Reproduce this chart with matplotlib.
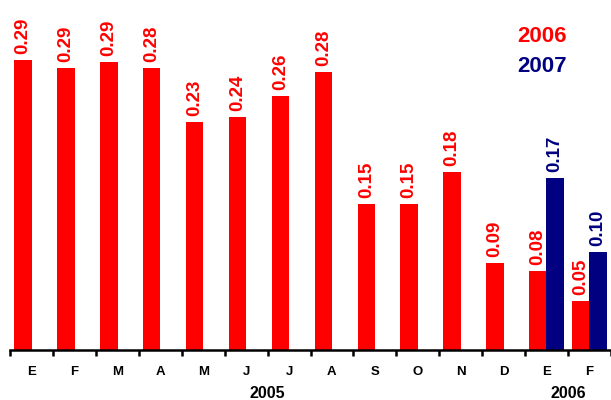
import matplotlib
matplotlib.use("Agg")
import matplotlib.pyplot as plt
import numpy as np

plt.rcParams['font.family'] = ['Liberation Sans', 'DejaVu Sans']
plt.rcParams['font.weight'] = 'bold'

months = ['E', 'F', 'M', 'A', 'M', 'J', 'J', 'A', 'S', 'O', 'N', 'D', 'E', 'F']
years = ['2005', '2006']
red_vals = [0.290, 0.282, 0.288, 0.282, 0.228, 0.233, 0.254, 0.278,
            0.146, 0.146, 0.178, 0.087, 0.079, 0.049]
red_labels = ['0.29', '0.29', '0.29', '0.28', '0.23', '0.24', '0.26', '0.28',
              '0.15', '0.15', '0.18', '0.09', '0.08', '0.05']
blue_idx = [12, 13]
blue_vals = [0.172, 0.098]
blue_labels = ['0.17', '0.10']

RED = '#FF0000'
NAVY = '#000080'

fig = plt.figure(figsize=(6.11, 4.0), dpi=100)
ax = fig.add_axes([10 / 611, 50 / 400, 601 / 611, 350 / 400])

x = np.arange(len(months))
w = 0.41
ax.bar(x - 0.2, red_vals, width=w, color=RED, zorder=2)
ax.bar(np.array(blue_idx) + 0.2, blue_vals, width=w, color=NAVY, zorder=2)

pad = 0.006
for xi, v, lab in zip(x, red_vals, red_labels):
    ax.text(xi - 0.2, v + pad, lab, rotation=90, ha='center', va='bottom',
            color=RED, fontsize=13.5, fontweight='bold')
for xi, v, lab in zip(blue_idx, blue_vals, blue_labels):
    ax.text(xi + 0.2, v + pad, lab, rotation=90, ha='center', va='bottom',
            color=NAVY, fontsize=13.5, fontweight='bold')

ax.set_xlim(-0.5, 13.48)
ax.set_ylim(0, 0.35)

for s in ['top', 'right', 'left']:
    ax.spines[s].set_visible(False)
ax.spines['bottom'].set_linewidth(1.8)
ax.set_yticks([])
ax.set_xticks(np.arange(-0.5, 13.6, 1.0))
ax.set_xticklabels([])
ax.tick_params(axis='x', direction='out', length=4, width=1.8, color='black')

# month letters under each slot
for xi, m in zip(x, months):
    ax.text(xi, -0.022, m, ha='center', va='center', fontsize=9.5,
            fontweight='bold', color='black', clip_on=False)
# year labels
ax.text(5.5, -0.044, years[0], ha='center', va='center', fontsize=11.5,
        fontweight='bold', color='black', clip_on=False)
ax.text(12.5, -0.044, years[1], ha='center', va='center', fontsize=11.5,
        fontweight='bold', color='black', clip_on=False)

# legend as coloured text
fig.text(542 / 611, 1 - 37 / 400, '2006', ha='center', va='center',
         fontsize=16, fontweight='bold', color=RED)
fig.text(542 / 611, 1 - 66 / 400, '2007', ha='center', va='center',
         fontsize=16, fontweight='bold', color=NAVY)

fig.savefig('out.png', dpi=100)
